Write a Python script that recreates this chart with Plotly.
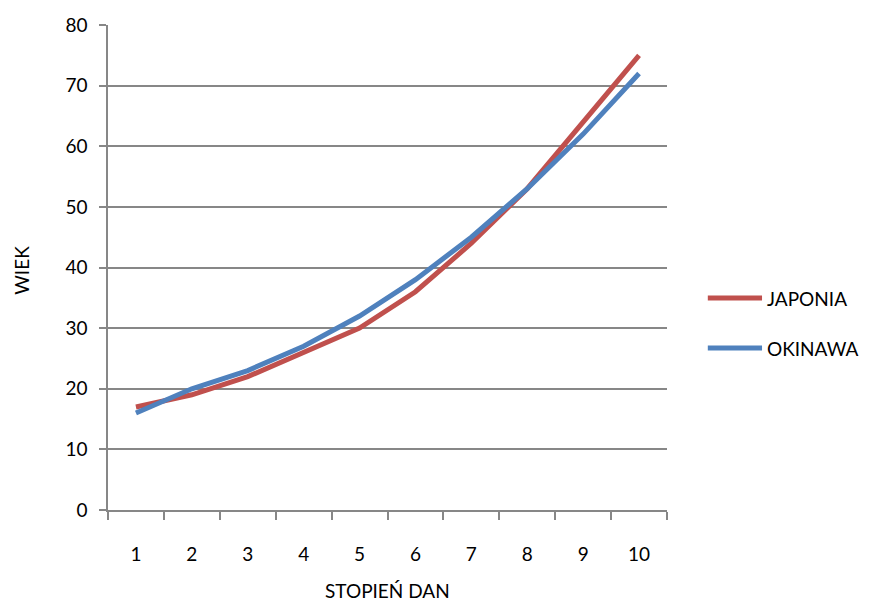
import plotly.graph_objects as go

stopien = [1, 2, 3, 4, 5, 6, 7, 8, 9, 10]
japonia = [17, 19, 22, 26, 30, 36, 44, 53, 64, 75]
okinawa = [16, 20, 23, 27, 32, 38, 45, 53, 62, 72]
series_names = ["JAPONIA", "OKINAWA"]
series_colors = ["#C0504D", "#4F81BD"]

FONT = "Lato, Carlito, Liberation Sans, Arial"
GRID = "#878787"

fig = go.Figure()
for name, vals, col in zip(series_names, [japonia, okinawa], series_colors):
    fig.add_trace(go.Scatter(x=stopien, y=vals, mode="lines", name=name,
                             line=dict(color=col, width=5), showlegend=False))

# manual legend (long swatches like the reference)
shapes = []
annotations = []
legend_y = [0.437, 0.334]
for name, col, ly in zip(series_names, series_colors, legend_y):
    shapes.append(dict(type="line", xref="paper", yref="paper",
                       x0=1.073, x1=1.170, y0=ly, y1=ly,
                       line=dict(color=col, width=5)))
    annotations.append(dict(text=name, xref="paper", yref="paper", x=1.176, y=ly,
                            xanchor="left", yanchor="middle", showarrow=False,
                            font=dict(size=19)))

annotations += [
    dict(text="WIEK", xref="paper", yref="paper", x=-0.154, y=0.495,
         textangle=-90, showarrow=False, font=dict(size=19),
         xanchor="center", yanchor="middle"),
    dict(text="STOPIEŃ DAN", xref="paper", yref="paper", x=0.5, y=-0.166,
         showarrow=False, font=dict(size=19), xanchor="center", yanchor="middle"),
]

fig.update_layout(
    width=862, height=597,
    margin=dict(l=100, r=203, t=17, b=95),
    paper_bgcolor="white", plot_bgcolor="white",
    font=dict(family=FONT, size=19, color="black"),
    showlegend=False,
    xaxis=dict(range=[0.5, 10.5], tickmode="array", tickvals=stopien,
               ticktext=[str(v) for v in stopien], automargin=False,
               ticks="outside", ticklen=0, ticklabelstandoff=26,
               showgrid=False, zeroline=False,
               showline=True, linecolor=GRID, linewidth=1.5,
               minor=dict(tickmode="linear", tick0=0.5, dtick=1, ticks="outside",
                          ticklen=8, tickcolor=GRID, tickwidth=1.5, showgrid=False)),
    yaxis=dict(range=[0, 80], tickmode="linear", tick0=0, dtick=10, automargin=False,
               ticks="outside", ticklen=7, tickcolor=GRID, tickwidth=1.5,
               ticklabelstandoff=8,
               showgrid=True, gridcolor=GRID, gridwidth=1.5,
               zeroline=False, showline=True, linecolor=GRID, linewidth=1.5),
    shapes=shapes,
    annotations=annotations,
)

fig.write_html("out.html")
